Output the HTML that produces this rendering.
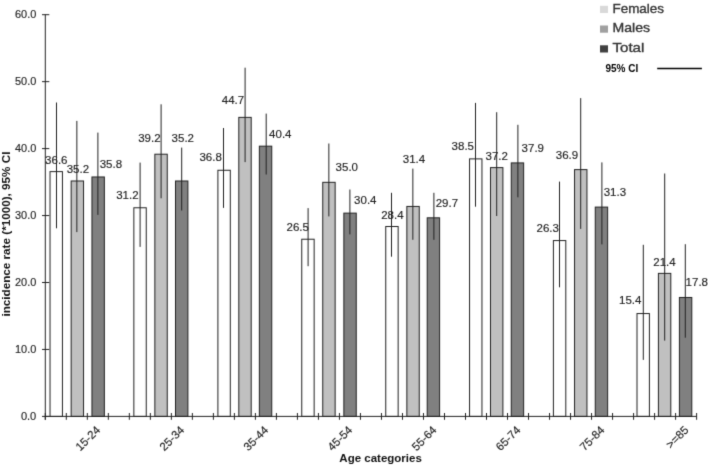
<!DOCTYPE html>
<html><head><meta charset="utf-8"><style>
html,body{margin:0;padding:0;background:#fff;}
svg{display:block;}
#w{width:708px;height:466px;}
.t{font-family:"Liberation Sans",sans-serif;font-size:11.5px;fill:#222;stroke:#222;stroke-width:0.15px;}
.b{font-family:"Liberation Sans",sans-serif;font-size:11.5px;font-weight:bold;fill:#111;}
.l{font-family:"Liberation Sans",sans-serif;font-size:13px;fill:#333;stroke:#333;stroke-width:0.35px;}
.c{font-family:"Liberation Sans",sans-serif;font-size:10px;font-weight:bold;fill:#000;}
</style></head><body>
<div id="w"><svg width="708" height="466" viewBox="0 0 708 466">
<defs><filter id="bl" x="0" y="0" width="100%" height="100%" filterUnits="userSpaceOnUse" color-interpolation-filters="sRGB"><feConvolveMatrix order="3" kernelMatrix="0.01440 0.09120 0.01440 0.09120 0.57760 0.09120 0.01440 0.09120 0.01440" edgeMode="duplicate"/></filter></defs>
<g filter="url(#bl)">
<rect x="0" y="0" width="708" height="466" fill="#fff"/>
<rect x="50.03" y="171.61" width="12.40" height="244.79" fill="#ffffff" stroke="#222" stroke-width="1"/>
<rect x="71.15" y="180.99" width="12.40" height="235.41" fill="#c0c0c0" stroke="#222" stroke-width="1"/>
<rect x="91.95" y="176.97" width="12.40" height="239.43" fill="#808080" stroke="#222" stroke-width="1"/>
<rect x="133.85" y="207.77" width="12.40" height="208.63" fill="#ffffff" stroke="#222" stroke-width="1"/>
<rect x="154.85" y="154.21" width="12.40" height="262.19" fill="#c0c0c0" stroke="#222" stroke-width="1"/>
<rect x="175.50" y="180.99" width="12.40" height="235.41" fill="#808080" stroke="#222" stroke-width="1"/>
<rect x="217.90" y="170.27" width="12.40" height="246.13" fill="#ffffff" stroke="#222" stroke-width="1"/>
<rect x="238.80" y="117.38" width="12.40" height="299.02" fill="#c0c0c0" stroke="#222" stroke-width="1"/>
<rect x="259.35" y="146.17" width="12.40" height="270.23" fill="#808080" stroke="#222" stroke-width="1"/>
<rect x="301.75" y="239.23" width="12.40" height="177.17" fill="#ffffff" stroke="#222" stroke-width="1"/>
<rect x="322.75" y="182.32" width="12.40" height="234.08" fill="#c0c0c0" stroke="#222" stroke-width="1"/>
<rect x="343.85" y="213.12" width="12.40" height="203.28" fill="#808080" stroke="#222" stroke-width="1"/>
<rect x="385.75" y="226.51" width="12.40" height="189.89" fill="#ffffff" stroke="#222" stroke-width="1"/>
<rect x="406.85" y="206.43" width="12.40" height="209.97" fill="#c0c0c0" stroke="#222" stroke-width="1"/>
<rect x="427.20" y="217.81" width="12.40" height="198.59" fill="#808080" stroke="#222" stroke-width="1"/>
<rect x="469.55" y="158.89" width="12.40" height="257.51" fill="#ffffff" stroke="#222" stroke-width="1"/>
<rect x="490.50" y="167.60" width="12.40" height="248.80" fill="#c0c0c0" stroke="#222" stroke-width="1"/>
<rect x="511.25" y="162.91" width="12.40" height="253.49" fill="#808080" stroke="#222" stroke-width="1"/>
<rect x="553.40" y="240.57" width="12.40" height="175.83" fill="#ffffff" stroke="#222" stroke-width="1"/>
<rect x="574.55" y="169.60" width="12.40" height="246.80" fill="#c0c0c0" stroke="#222" stroke-width="1"/>
<rect x="595.25" y="207.10" width="12.40" height="209.30" fill="#808080" stroke="#222" stroke-width="1"/>
<rect x="637.00" y="313.55" width="12.40" height="102.85" fill="#ffffff" stroke="#222" stroke-width="1"/>
<rect x="658.40" y="273.38" width="12.40" height="143.02" fill="#c0c0c0" stroke="#222" stroke-width="1"/>
<rect x="679.40" y="297.48" width="12.40" height="118.92" fill="#808080" stroke="#222" stroke-width="1"/>
<line x1="56.50" y1="102.50" x2="56.50" y2="228.30" stroke="#222" stroke-width="1"/>
<line x1="76.85" y1="120.90" x2="76.85" y2="232.10" stroke="#222" stroke-width="1"/>
<line x1="97.90" y1="132.60" x2="97.90" y2="214.90" stroke="#222" stroke-width="1"/>
<line x1="140.10" y1="162.60" x2="140.10" y2="246.90" stroke="#222" stroke-width="1"/>
<line x1="161.10" y1="104.30" x2="161.10" y2="198.30" stroke="#222" stroke-width="1"/>
<line x1="181.70" y1="147.60" x2="181.70" y2="210.50" stroke="#222" stroke-width="1"/>
<line x1="223.50" y1="128.00" x2="223.50" y2="207.90" stroke="#222" stroke-width="1"/>
<line x1="245.10" y1="67.70" x2="245.10" y2="162.10" stroke="#222" stroke-width="1"/>
<line x1="266.20" y1="113.60" x2="266.20" y2="174.50" stroke="#222" stroke-width="1"/>
<line x1="308.10" y1="208.10" x2="308.10" y2="266.20" stroke="#222" stroke-width="1"/>
<line x1="328.85" y1="143.50" x2="328.85" y2="216.40" stroke="#222" stroke-width="1"/>
<line x1="349.90" y1="189.50" x2="349.90" y2="234.40" stroke="#222" stroke-width="1"/>
<line x1="391.50" y1="192.80" x2="391.50" y2="256.70" stroke="#222" stroke-width="1"/>
<line x1="412.85" y1="168.60" x2="412.85" y2="239.80" stroke="#222" stroke-width="1"/>
<line x1="433.90" y1="192.80" x2="433.90" y2="239.80" stroke="#222" stroke-width="1"/>
<line x1="475.50" y1="102.90" x2="475.50" y2="206.70" stroke="#222" stroke-width="1"/>
<line x1="496.70" y1="112.20" x2="496.70" y2="216.00" stroke="#222" stroke-width="1"/>
<line x1="517.90" y1="124.80" x2="517.90" y2="197.30" stroke="#222" stroke-width="1"/>
<line x1="559.50" y1="181.60" x2="559.50" y2="287.30" stroke="#222" stroke-width="1"/>
<line x1="580.70" y1="98.10" x2="580.70" y2="228.90" stroke="#222" stroke-width="1"/>
<line x1="601.90" y1="162.40" x2="601.90" y2="244.40" stroke="#222" stroke-width="1"/>
<line x1="643.30" y1="244.80" x2="643.30" y2="359.90" stroke="#222" stroke-width="1"/>
<line x1="664.70" y1="173.50" x2="664.70" y2="340.60" stroke="#222" stroke-width="1"/>
<line x1="685.30" y1="244.20" x2="685.30" y2="337.70" stroke="#222" stroke-width="1"/>
<line x1="45.3" y1="14.5" x2="45.3" y2="419.8" stroke="#222" stroke-width="1"/>
<line x1="45.3" y1="416.4" x2="696.6" y2="416.4" stroke="#222" stroke-width="1"/>
<line x1="42" y1="416.40" x2="49.3" y2="416.40" stroke="#222" stroke-width="1"/>
<text x="36.3" y="419.60" text-anchor="end" class="t" textLength="15.4" lengthAdjust="spacingAndGlyphs">0.0</text>
<line x1="42" y1="349.45" x2="49.3" y2="349.45" stroke="#222" stroke-width="1"/>
<text x="36.3" y="352.65" text-anchor="end" class="t" textLength="21.3" lengthAdjust="spacingAndGlyphs">10.0</text>
<line x1="42" y1="282.50" x2="49.3" y2="282.50" stroke="#222" stroke-width="1"/>
<text x="36.3" y="285.70" text-anchor="end" class="t" textLength="21.3" lengthAdjust="spacingAndGlyphs">20.0</text>
<line x1="42" y1="215.55" x2="49.3" y2="215.55" stroke="#222" stroke-width="1"/>
<text x="36.3" y="218.75" text-anchor="end" class="t" textLength="21.3" lengthAdjust="spacingAndGlyphs">30.0</text>
<line x1="42" y1="148.60" x2="49.3" y2="148.60" stroke="#222" stroke-width="1"/>
<text x="36.3" y="151.80" text-anchor="end" class="t" textLength="21.3" lengthAdjust="spacingAndGlyphs">40.0</text>
<line x1="42" y1="81.65" x2="49.3" y2="81.65" stroke="#222" stroke-width="1"/>
<text x="36.3" y="84.85" text-anchor="end" class="t" textLength="21.3" lengthAdjust="spacingAndGlyphs">50.0</text>
<line x1="42" y1="14.70" x2="49.3" y2="14.70" stroke="#222" stroke-width="1"/>
<text x="36.3" y="17.90" text-anchor="end" class="t" textLength="21.3" lengthAdjust="spacingAndGlyphs">60.0</text>
<line x1="45.30" y1="413" x2="45.30" y2="419.8" stroke="#222" stroke-width="1"/>
<line x1="66.31" y1="413" x2="66.31" y2="419.8" stroke="#222" stroke-width="1"/>
<line x1="87.32" y1="413" x2="87.32" y2="419.8" stroke="#222" stroke-width="1"/>
<line x1="108.33" y1="413" x2="108.33" y2="419.8" stroke="#222" stroke-width="1"/>
<line x1="129.34" y1="413" x2="129.34" y2="419.8" stroke="#222" stroke-width="1"/>
<line x1="150.35" y1="413" x2="150.35" y2="419.8" stroke="#222" stroke-width="1"/>
<line x1="171.36" y1="413" x2="171.36" y2="419.8" stroke="#222" stroke-width="1"/>
<line x1="192.37" y1="413" x2="192.37" y2="419.8" stroke="#222" stroke-width="1"/>
<line x1="213.38" y1="413" x2="213.38" y2="419.8" stroke="#222" stroke-width="1"/>
<line x1="234.39" y1="413" x2="234.39" y2="419.8" stroke="#222" stroke-width="1"/>
<line x1="255.40" y1="413" x2="255.40" y2="419.8" stroke="#222" stroke-width="1"/>
<line x1="276.41" y1="413" x2="276.41" y2="419.8" stroke="#222" stroke-width="1"/>
<line x1="297.42" y1="413" x2="297.42" y2="419.8" stroke="#222" stroke-width="1"/>
<line x1="318.43" y1="413" x2="318.43" y2="419.8" stroke="#222" stroke-width="1"/>
<line x1="339.44" y1="413" x2="339.44" y2="419.8" stroke="#222" stroke-width="1"/>
<line x1="360.45" y1="413" x2="360.45" y2="419.8" stroke="#222" stroke-width="1"/>
<line x1="381.46" y1="413" x2="381.46" y2="419.8" stroke="#222" stroke-width="1"/>
<line x1="402.47" y1="413" x2="402.47" y2="419.8" stroke="#222" stroke-width="1"/>
<line x1="423.48" y1="413" x2="423.48" y2="419.8" stroke="#222" stroke-width="1"/>
<line x1="444.49" y1="413" x2="444.49" y2="419.8" stroke="#222" stroke-width="1"/>
<line x1="465.50" y1="413" x2="465.50" y2="419.8" stroke="#222" stroke-width="1"/>
<line x1="486.51" y1="413" x2="486.51" y2="419.8" stroke="#222" stroke-width="1"/>
<line x1="507.52" y1="413" x2="507.52" y2="419.8" stroke="#222" stroke-width="1"/>
<line x1="528.53" y1="413" x2="528.53" y2="419.8" stroke="#222" stroke-width="1"/>
<line x1="549.54" y1="413" x2="549.54" y2="419.8" stroke="#222" stroke-width="1"/>
<line x1="570.55" y1="413" x2="570.55" y2="419.8" stroke="#222" stroke-width="1"/>
<line x1="591.56" y1="413" x2="591.56" y2="419.8" stroke="#222" stroke-width="1"/>
<line x1="612.57" y1="413" x2="612.57" y2="419.8" stroke="#222" stroke-width="1"/>
<line x1="633.58" y1="413" x2="633.58" y2="419.8" stroke="#222" stroke-width="1"/>
<line x1="654.59" y1="413" x2="654.59" y2="419.8" stroke="#222" stroke-width="1"/>
<line x1="675.60" y1="413" x2="675.60" y2="419.8" stroke="#222" stroke-width="1"/>
<line x1="696.61" y1="413" x2="696.61" y2="419.8" stroke="#222" stroke-width="1"/>
<text x="45.1" y="164.40" text-anchor="start" class="t">36.6</text>
<text x="66.7" y="172.90" text-anchor="start" class="t">35.2</text>
<text x="99.7" y="167.60" text-anchor="start" class="t">35.8</text>
<text x="138.6" y="198.50" text-anchor="end" class="t">31.2</text>
<text x="138.2" y="141.60" text-anchor="start" class="t">39.2</text>
<text x="171.6" y="141.60" text-anchor="start" class="t">35.2</text>
<text x="221.8" y="160.60" text-anchor="end" class="t">36.8</text>
<text x="221.8" y="103.70" text-anchor="start" class="t">44.7</text>
<text x="269.1" y="138.00" text-anchor="start" class="t">40.4</text>
<text x="286.5" y="230.60" text-anchor="start" class="t">26.5</text>
<text x="335.6" y="170.80" text-anchor="start" class="t">35.0</text>
<text x="354.1" y="203.50" text-anchor="start" class="t">30.4</text>
<text x="381.2" y="219.00" text-anchor="start" class="t">28.4</text>
<text x="402.8" y="162.50" text-anchor="start" class="t">31.4</text>
<text x="435.7" y="207.40" text-anchor="start" class="t">29.7</text>
<text x="451.6" y="150.30" text-anchor="start" class="t">38.5</text>
<text x="485.5" y="159.60" text-anchor="start" class="t">37.2</text>
<text x="521.6" y="151.90" text-anchor="start" class="t">37.9</text>
<text x="558.9" y="231.50" text-anchor="end" class="t">26.3</text>
<text x="555.8" y="159.20" text-anchor="start" class="t">36.9</text>
<text x="603.7" y="196.40" text-anchor="start" class="t">31.3</text>
<text x="619.0" y="304.00" text-anchor="start" class="t">15.4</text>
<text x="653.3" y="266.20" text-anchor="start" class="t">21.4</text>
<text x="685.6" y="286.00" text-anchor="start" class="t">17.8</text>
<text transform="translate(101.03,430.70) rotate(-45)" text-anchor="end" class="t">15-24</text>
<text transform="translate(185.06,430.70) rotate(-45)" text-anchor="end" class="t">25-34</text>
<text transform="translate(269.11,430.70) rotate(-45)" text-anchor="end" class="t">35-44</text>
<text transform="translate(353.15,430.70) rotate(-45)" text-anchor="end" class="t">45-54</text>
<text transform="translate(437.19,430.70) rotate(-45)" text-anchor="end" class="t">55-64</text>
<text transform="translate(521.23,430.70) rotate(-45)" text-anchor="end" class="t">65-74</text>
<text transform="translate(605.26,430.70) rotate(-45)" text-anchor="end" class="t">75-84</text>
<text transform="translate(689.31,430.70) rotate(-45)" text-anchor="end" class="t">&gt;=85</text>
<text x="380.6" y="462" text-anchor="middle" class="b">Age categories</text>
<text transform="translate(10.2,316.6) rotate(-90)" class="b" style="font-size:11.2px" textLength="165" lengthAdjust="spacingAndGlyphs">incidence rate (*1000), 95% CI</text>
<rect x="600" y="5.8" width="8" height="7.2" fill="#d9d9d9"/>
<text x="612.5" y="12.9" class="l" textLength="51.5" lengthAdjust="spacingAndGlyphs">Females</text>
<rect x="600" y="25.5" width="8" height="7.2" fill="#a0a0a0"/>
<text x="612.5" y="32.3" class="l" textLength="37.5" lengthAdjust="spacingAndGlyphs">Males</text>
<rect x="600" y="45.3" width="8" height="7.2" fill="#404040"/>
<text x="612.5" y="52.2" class="l" textLength="31.8" lengthAdjust="spacingAndGlyphs">Total</text>
<text x="605.5" y="72.4" class="c">95% CI</text>
<line x1="657.2" y1="68.5" x2="701.9" y2="68.5" stroke="#000" stroke-width="1.6"/>
</g>
</svg></div>
</body></html>
